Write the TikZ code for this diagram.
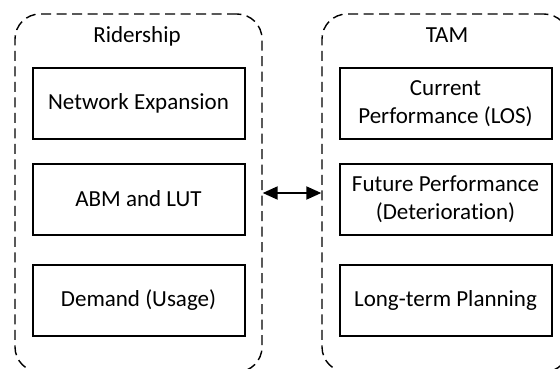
\documentclass[tikz,border=0pt]{standalone}
\usepackage{fontspec}
\setmainfont[Ligatures={NoCommon}]{Carlito}
\usetikzlibrary{arrows.meta}
\begin{document}
\begin{tikzpicture}[x=1pt,y=1pt,
  container/.style={draw, dashed, dash pattern=on 10pt off 5.5pt, line width=1.4pt, rounded corners=25pt, minimum width=247pt, minimum height=358pt, inner sep=0pt},
  item/.style={draw, line width=2pt, minimum width=212pt, minimum height=71pt, inner sep=0pt, align=center, font=\fontsize{23}{28}\selectfont},
  title/.style={anchor=base, font=\fontsize{23}{28}\selectfont, inner sep=0pt},
  link/.style={line width=2pt, {Triangle[length=15pt,width=13pt]}-{Triangle[length=15pt,width=13pt]}}
]
\useasboundingbox (0,0) rectangle (560,-369);
\node[container] (L) at (138.5,-193) {};
\node[container] (R) at (445.5,-193) {};
\node[title] (lt) at (137,-43) {Ridership};
\node[title] (rt) at (447,-43) {TAM};
\node[item] (n1) at (138.5,-103.5) {Network Expansion};
\node[item] (n2) at (138.5,-199) {ABM and LUT};
\node[item] (n3) at (138.5,-300.5) {Demand (Usage)};
\node[item] (m1) at (445.5,-103.5) {Current\\Performance (LOS)};
\node[item] (m2) at (445.5,-199) {Future Performance\\(Deterioration)};
\node[item] (m3) at (445.5,-300.5) {Long-term Planning};
\draw[link] (L.east) -- (R.west);
\end{tikzpicture}
\end{document}
